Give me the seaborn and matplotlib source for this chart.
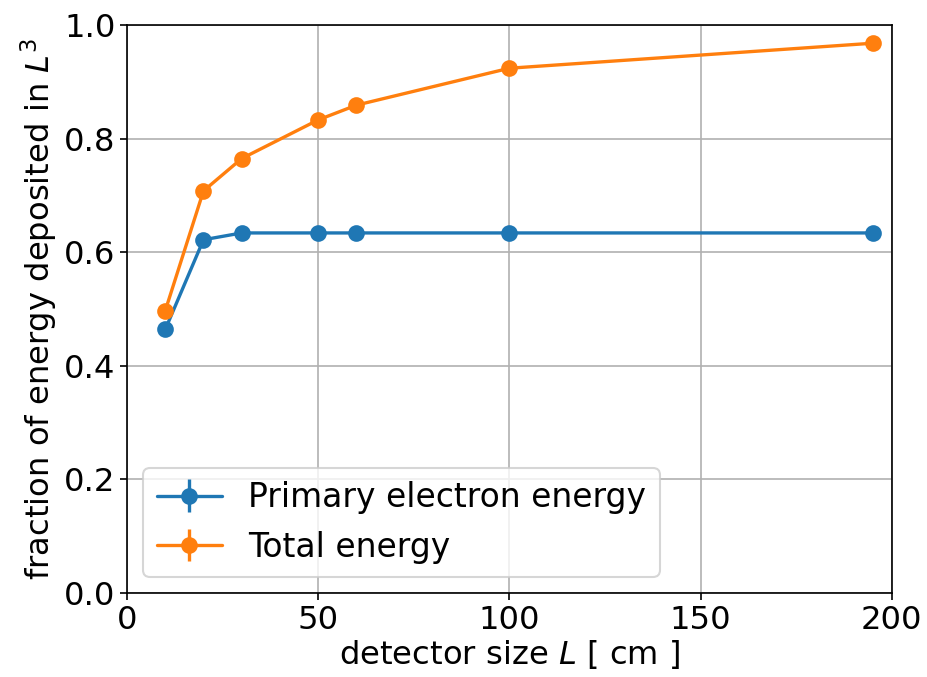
import matplotlib
matplotlib.use("Agg")
import matplotlib.pyplot as plt
import seaborn as sns

detector_size = [10, 20, 30, 50, 60, 100, 195]
primary_frac = [0.464, 0.622, 0.634, 0.634, 0.634, 0.634, 0.634]
total_frac = [0.497, 0.708, 0.765, 0.833, 0.859, 0.924, 0.968]
primary_err = [0.002] * 7
total_err = [0.002] * 7
x_ticks = [0, 50, 100, 150, 200]

sns.set_style("ticks")
plt.rcParams['font.family'] = ['DejaVu Sans']
plt.rcParams['text.color'] = 'black'
plt.rcParams['axes.labelcolor'] = 'black'
plt.rcParams['xtick.color'] = 'black'
plt.rcParams['ytick.color'] = 'black'
FS = 15.5

fig, ax = plt.subplots(figsize=(927/150, 677/150), dpi=150)
fig.subplots_adjust(left=0.137, right=0.962, top=0.963, bottom=0.124)

colors = sns.color_palette("tab10")
ax.errorbar(detector_size, primary_frac, yerr=primary_err, fmt='o-', color=colors[0],
            markersize=7, linewidth=1.6, label='Primary electron energy')
ax.errorbar(detector_size, total_frac, yerr=total_err, fmt='o-', color=colors[1],
            markersize=7, linewidth=1.6, label='Total energy')

ax.set_xlim(0, 200)
ax.set_ylim(0, 1.0)
ax.set_xticks(x_ticks)
ax.grid(True, color='#b0b0b0', linewidth=0.8)
ax.tick_params(labelsize=FS, direction='out', length=3.5, width=0.8, pad=2, colors='black')
for s in ax.spines.values():
    s.set_color('black')
    s.set_linewidth(0.8)
ax.set_xlabel('detector size $L$ [ cm ]', fontsize=FS, color='black', labelpad=1)
ax.set_ylabel('fraction of energy deposited in $L^3$', fontsize=FS, color='black', labelpad=2)
leg = ax.legend(loc='lower left', fontsize=15.75, frameon=True, borderaxespad=0.5)
for t in leg.get_texts():
    t.set_color('black')

fig.savefig('out.png', dpi=150)
